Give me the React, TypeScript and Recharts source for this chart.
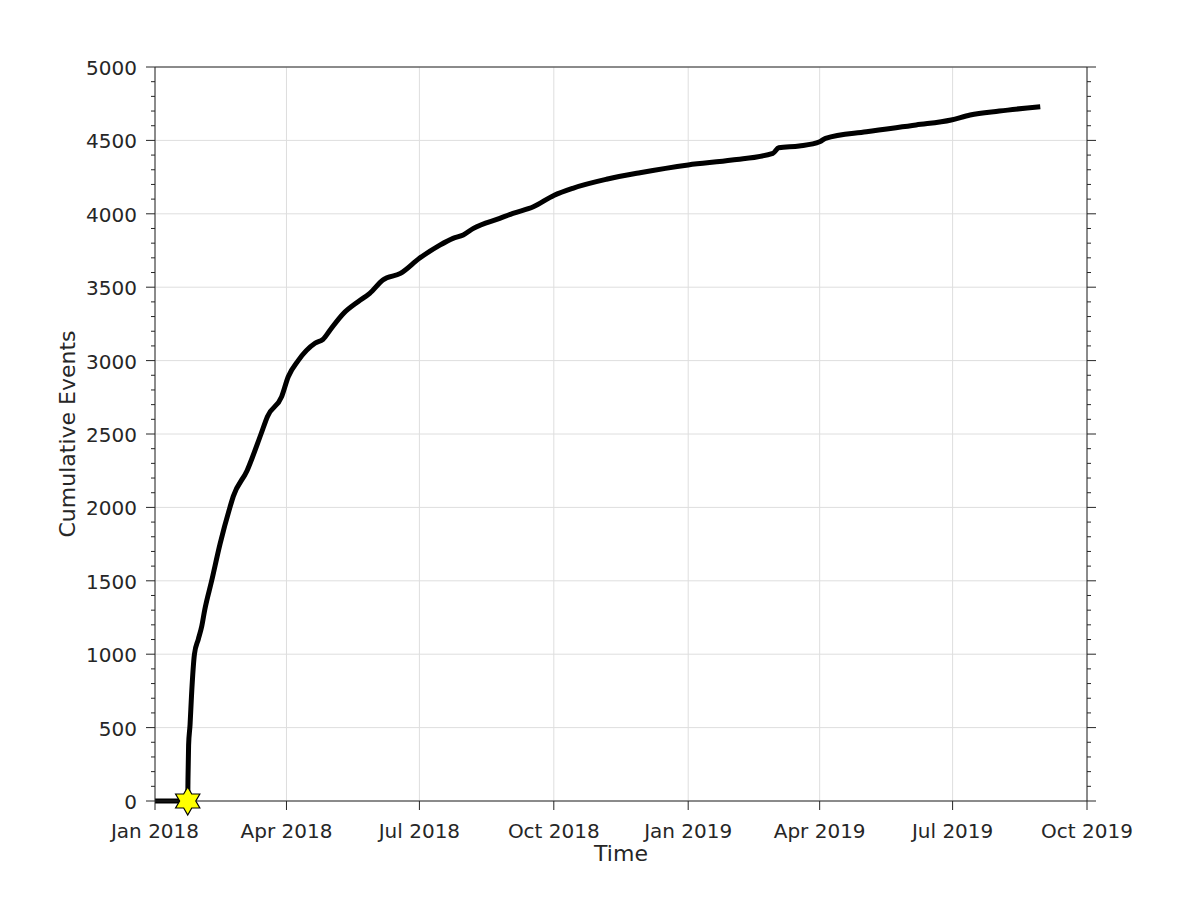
import { ComposedChart, Line, Scatter, XAxis, YAxis, CartesianGrid } from 'recharts';

// cumulative event count
const eventDates = [
  '2018-01-01', '2018-01-23T09:30', '2018-01-23T14:00', '2018-01-24', '2018-01-25',
  '2018-01-26', '2018-01-28', '2018-01-30T14:00', '2018-02-02', '2018-02-04',
  '2018-02-08T19:00', '2018-02-14T12:00', '2018-02-21T07:00', '2018-02-23T14:00', '2018-03-05',
  '2018-03-14T14:00', '2018-03-19', '2018-03-28T17:00', '2018-04-02T05:00', '2018-04-09',
  '2018-04-20T12:00', '2018-04-26', '2018-05-01', '2018-05-10', '2018-05-20',
  '2018-05-28', '2018-06-06', '2018-06-18', '2018-07-01', '2018-07-15',
  '2018-07-24', '2018-07-31', '2018-08-07', '2018-08-25', '2018-09-03',
  '2018-09-17', '2018-10-01', '2018-10-14', '2018-11-06', '2018-11-29',
  '2019-01-01', '2019-01-31', '2019-02-28', '2019-03-04', '2019-03-18',
  '2019-04-01', '2019-04-05', '2019-05-03', '2019-06-06', '2019-06-30',
  '2019-07-13', '2019-08-02', '2019-08-30',
];
const cumulativeCounts = [
  0, 0, 150, 380, 520,
  720, 1000, 1100, 1190, 1300,
  1500, 1750, 2000, 2075, 2250,
  2500, 2620, 2755, 2890, 3000,
  3118, 3145, 3210, 3321, 3401,
  3458, 3549, 3594, 3697, 3787,
  3833, 3856, 3901, 3969, 4003,
  4048, 4125, 4174, 4235, 4280,
  4333, 4366, 4412, 4450, 4462,
  4491, 4514, 4559, 4605, 4639,
  4673, 4700, 4730,
];

const mainshockDate = '2018-01-23T09:30';
const mainshockCount = 0;

const timeTicks = [
  '2018-01-01', '2018-04-01', '2018-07-01', '2018-10-01',
  '2019-01-01', '2019-04-01', '2019-07-01', '2019-10-01',
];
const countTicks = [0, 500, 1000, 1500, 2000, 2500, 3000, 3500, 4000, 4500, 5000];
const countMinorTicks = Array.from({ length: 51 }, (_, i) => i * 100);
const countDomain = [0, 5000];

const monthNames = ['Jan', 'Feb', 'Mar', 'Apr', 'May', 'Jun', 'Jul', 'Aug', 'Sep', 'Oct', 'Nov', 'Dec'];

const AXIS = '#262626';
const FONT = '"DejaVu Sans", sans-serif';

const toTime = (s: string) => Date.parse(s.length === 10 ? s + 'T00:00:00Z' : s + ':00Z');

const timeTickValues = timeTicks.map(toTime);
const timeDomain = [timeTickValues[0], timeTickValues[timeTickValues.length - 1]];

const data = eventDates.map((d, i) => ({ t: toTime(d), v: cumulativeCounts[i] }));
const mainshock = [{ t: toTime(mainshockDate), v: mainshockCount }];

const formatDate = (t: number) => {
  const d = new Date(t);
  return `${monthNames[d.getUTCMonth()]} ${d.getUTCFullYear()}`;
};

// horizontal grid only at the labelled counts
const gridRows = ({ yAxis, offset }: any) =>
  countTicks.map(v =>
    yAxis && typeof yAxis.scale === 'function'
      ? yAxis.scale(v)
      : offset.top + offset.height * (1 - (v - countDomain[0]) / (countDomain[1] - countDomain[0]))
  );

function BottomTick(props: any) {
  const { x, y, payload } = props;
  return (
    <g>
      <line x1={x} y1={y} x2={x} y2={y + 9} stroke={AXIS} />
      <text x={x} y={y + 37} textAnchor="middle" fill={AXIS} fontSize={20} fontFamily={FONT}>
        {formatDate(payload.value)}
      </text>
    </g>
  );
}

function LeftTick(props: any) {
  const { x, y, payload } = props;
  const major = payload.value % 500 === 0;
  return (
    <g>
      <line x1={x} y1={y} x2={x - (major ? 9 : 4)} y2={y} stroke={AXIS} />
      {major && (
        <text x={x - 18} y={y + 8} textAnchor="end" fill={AXIS} fontSize={20} fontFamily={FONT}>
          {payload.value}
        </text>
      )}
    </g>
  );
}

function RightTick(props: any) {
  const { x, y, payload } = props;
  const major = payload.value % 500 === 0;
  return <line x1={x} y1={y} x2={x + (major ? 9 : 4)} y2={y} stroke={AXIS} />;
}

function Hexagram(props: any) {
  const { cx, cy } = props;
  const R = 14;
  const r = R / Math.sqrt(3);
  const pts: string[] = [];
  for (let i = 0; i < 12; i++) {
    const a = (-90 + i * 30) * Math.PI / 180;
    const rad = i % 2 === 0 ? R : r;
    pts.push(`${cx + rad * Math.cos(a)},${cy + rad * Math.sin(a)}`);
  }
  return <polygon points={pts.join(' ')} fill="#ffff00" stroke="#000" strokeWidth={1.2} />;
}

export default function App() {
  return (
    <div style={{ position: 'absolute', left: 0, top: 0, background: '#fff', fontFamily: FONT }}>
      <ComposedChart
        width={1200}
        height={900}
        data={data}
        margin={{ top: 47, right: 93, bottom: 39, left: 95 }}
      >
        <CartesianGrid
          xAxisId="bottom"
          yAxisId="left"
          stroke="#dedede"
          strokeWidth={1}
          horizontalCoordinatesGenerator={gridRows}
        />
        <XAxis
          xAxisId="bottom"
          dataKey="t"
          type="number"
          domain={timeDomain}
          ticks={timeTickValues}
          interval={0}
          height={60}
          tickSize={0}
          tickMargin={0}
          tickLine={false}
          axisLine={{ stroke: AXIS }}
          tick={<BottomTick />}
          label={{ value: 'Time', position: 'insideBottom', offset: 0, fontSize: 22, fill: AXIS, fontFamily: FONT }}
        />
        <XAxis
          xAxisId="top"
          orientation="top"
          dataKey="t"
          type="number"
          domain={timeDomain}
          ticks={timeTickValues}
          allowDataOverflow
          interval={0}
          height={20}
          tickSize={10}
          tick={false}
          tickLine={{ stroke: AXIS }}
          axisLine={{ stroke: AXIS }}
        />
        <YAxis
          yAxisId="left"
          dataKey="v"
          type="number"
          domain={countDomain}
          ticks={countMinorTicks}
          interval={0}
          width={60}
          tickSize={0}
          tickMargin={0}
          tickLine={false}
          axisLine={{ stroke: AXIS }}
          tick={<LeftTick />}
          label={{
            value: 'Cumulative Events',
            angle: -90,
            position: 'insideLeft',
            offset: -28,
            fontSize: 22,
            fill: AXIS,
            fontFamily: FONT,
            style: { textAnchor: 'middle' },
          }}
        />
        <YAxis
          yAxisId="right"
          orientation="right"
          type="number"
          domain={countDomain}
          ticks={countMinorTicks}
          allowDataOverflow
          interval={0}
          width={20}
          tickSize={0}
          tickMargin={0}
          tickLine={false}
          axisLine={{ stroke: AXIS }}
          tick={<RightTick />}
        />
        <Line
          xAxisId="bottom"
          yAxisId="left"
          dataKey="v"
          type="monotoneX"
          stroke="#000"
          strokeWidth={5}
          strokeLinejoin="round"
          dot={false}
          activeDot={false}
          isAnimationActive={false}
        />
        <Scatter
          xAxisId="bottom"
          yAxisId="left"
          data={mainshock}
          dataKey="v"
          shape={<Hexagram />}
          isAnimationActive={false}
        />
      </ComposedChart>
    </div>
  );
}
